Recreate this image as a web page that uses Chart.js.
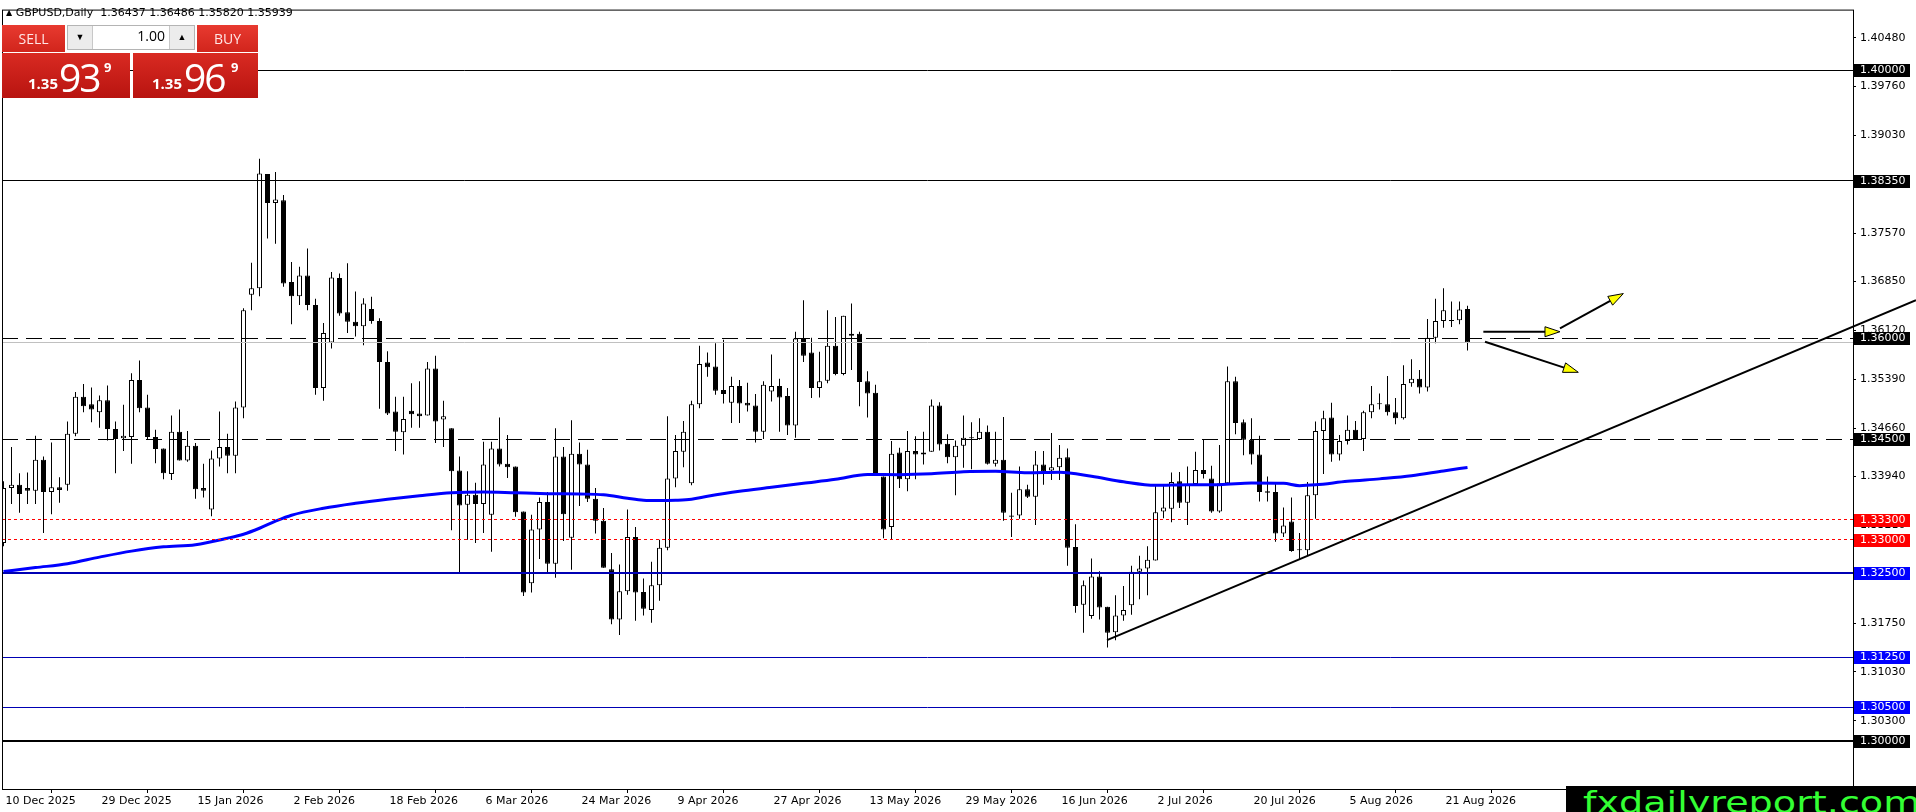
<!DOCTYPE html>
<html>
<head>
<meta charset="utf-8">
<script src="https://cdn.jsdelivr.net/npm/chart.js@4.4.1/dist/chart.umd.min.js"></script>
<style>
html,body{margin:0;padding:0;background:#fff;}
#wrap{position:relative;width:1916px;height:812px;overflow:hidden;background:#fff;}
#c{position:absolute;left:0;top:0;}
.abs{position:absolute;white-space:pre;}
#title{left:6px;top:6px;font:11px "DejaVu Sans";color:#000;}
.btn{position:absolute;top:25px;height:27px;background:linear-gradient(#e83a30,#d1251c);color:#ffe6e6;font:14px "Open Sans";text-align:center;line-height:27px;}
.pbox{position:absolute;top:53px;height:45px;background:linear-gradient(#d92a22,#b81410);color:#fff;overflow:hidden;}
.pbox span{position:absolute;line-height:1;font-family:"Open Sans";}
.sm{font-size:15px;font-weight:bold;}
.big{font-size:39px;letter-spacing:-2px;}
.sup{font-size:13px;font-weight:bold;}
#spin{position:absolute;left:67px;top:25px;width:128px;height:25px;border:1px solid #b4b4b4;background:#fff;box-sizing:border-box;}
.seg{position:absolute;top:0;width:24px;height:23px;background:#ececec;font-size:9px;text-align:center;line-height:23px;color:#000;}
#logo{position:absolute;left:1566px;top:786px;width:350px;height:26px;background:#000;overflow:hidden;}
#logo span{position:absolute;left:17px;top:-2px;line-height:1;font:31px "DejaVu Sans";color:#33ff33;white-space:pre;transform:scaleX(1.23);transform-origin:0 0;}
</style>
</head>
<body>
<div id="wrap">
<canvas id="c" width="1916" height="812"></canvas>
<div id="title" class="abs"></div>
<div class="btn" style="left:2px;width:63px;">SELL</div>
<div id="spin">
  <div class="seg" style="left:0;border-right:1px solid #c8c8c8;">▼</div>
  <div class="abs" style="right:29px;top:0;line-height:23px;font:14px 'Open Sans';color:#000;">1.00</div>
  <div class="seg" style="right:0;border-left:1px solid #c8c8c8;">▲</div>
</div>
<div class="btn" style="left:197px;width:61px;">BUY</div>
<div class="pbox" style="left:2px;width:128px;">
  <span class="sm" style="left:26px;top:23px;">1.35</span>
  <span class="big" style="left:57px;top:4px;">93</span>
  <span class="sup" style="left:102px;top:8px;">9</span>
</div>
<div class="pbox" style="left:133px;width:125px;">
  <span class="sm" style="left:19px;top:23px;">1.35</span>
  <span class="big" style="left:51px;top:4px;">96</span>
  <span class="sup" style="left:98px;top:8px;">9</span>
</div>
<div id="logo"><span>fxdailyreport.com</span></div>
</div>
<script>
// ---------- DATA ----------
const symbolName = 'GBPUSD,Daily';
const opens = [
1.3295,1.3377,1.3382,1.3377,1.3373,1.3419,1.3371,1.3378,1.3382,1.3458,
1.3513,1.3502,1.3490,1.3508,1.3465,1.3451,1.3453,1.3538,1.3497,1.3453,
1.3436,1.3398,1.3461,1.3418,1.3440,1.3377,1.3345,1.3421,1.3438,1.3425,
1.3497,1.3665,1.3675,1.3845,1.3802,1.3806,1.3684,1.3663,1.3694,1.3650,
1.3526,1.3594,1.3690,1.3639,1.3625,1.3618,1.3644,1.3626,1.3565,1.3491,
1.3460,1.3492,1.3488,1.3485,1.3555,1.3479,1.3466,1.3403,1.3352,1.3367,
1.3353,1.3337,1.3436,1.3413,1.3409,1.3342,1.3235,1.3315,1.3356,1.3264,
1.3424,1.3303,1.3428,1.3412,1.3361,1.3328,1.3256,1.3181,1.3223,1.3304,
1.3222,1.3195,1.3232,1.3288,1.3391,1.3431,1.3384,1.3502,1.3564,1.3558,
1.3523,1.3504,1.3529,1.3504,1.3500,1.3461,1.3521,1.3529,1.3514,1.3470,
1.3599,1.3579,1.3526,1.3537,1.3589,1.3547,1.3604,1.3607,1.3536,1.3519,
1.3394,1.3319,1.3430,1.3390,1.3432,1.3427,1.3431,1.3500,1.3443,1.3423,
1.3440,1.3452,1.3450,1.3461,1.3413,1.3419,1.3336,1.3336,1.3375,1.3364,
1.3412,1.3403,1.3408,1.3423,1.3289,1.3203,1.3186,1.3245,1.3200,1.3162,
1.3187,1.3202,1.3252,1.3257,1.3269,1.3342,1.3346,1.3387,1.3355,1.3383,
1.3404,1.3391,1.3342,1.3384,1.3536,1.3475,1.3449,1.3427,1.3372,1.3371,
1.3309,1.3327,1.3285,1.3284,1.3366,1.3462,1.3482,1.3427,1.3447,1.3464,
1.3450,1.3490,1.3503,1.3502,1.3490,1.3481,1.3533,1.3540,1.3527,1.3601,
1.3626,1.3627,1.3627,1.36437];
const highs = [
1.3387,1.3438,1.3399,1.3400,1.3455,1.3424,1.3445,1.3393,1.3476,1.3520,
1.3532,1.3527,1.3515,1.3530,1.3476,1.3501,1.3548,1.3567,1.3516,1.3464,
1.3436,1.3485,1.3494,1.3462,1.3444,1.3413,1.3433,1.3491,1.3458,1.3506,
1.3645,1.3713,1.3868,1.3845,1.3848,1.3814,1.3714,1.3707,1.3734,1.3659,
1.3623,1.3699,1.3697,1.3712,1.3670,1.3660,1.3662,1.3630,1.3581,1.3513,
1.3513,1.3533,1.3536,1.3565,1.3574,1.3507,1.3466,1.3424,1.3402,1.3385,
1.3446,1.3446,1.3482,1.3456,1.3409,1.3342,1.3337,1.3363,1.3371,1.3466,
1.3438,1.3478,1.3445,1.3434,1.3377,1.3347,1.3280,1.3263,1.3345,1.3319,
1.3242,1.3267,1.3300,1.3484,1.3456,1.3477,1.3507,1.3589,1.3579,1.3593,
1.3598,1.3543,1.3538,1.3534,1.3517,1.3536,1.3576,1.3540,1.3526,1.3610,
1.3657,1.3601,1.3580,1.3642,1.3632,1.3634,1.3652,1.3610,1.3551,1.3531,
1.3394,1.3447,1.3437,1.3462,1.3454,1.3461,1.3509,1.3505,1.3457,1.3448,
1.3485,1.3475,1.3481,1.3470,1.3461,1.3483,1.3370,1.3409,1.3382,1.3432,
1.3432,1.3459,1.3441,1.3436,1.3323,1.3239,1.3272,1.3253,1.3200,1.3217,
1.3231,1.3261,1.3276,1.3290,1.3382,1.3382,1.3400,1.3401,1.3409,1.3431,
1.3450,1.3410,1.3441,1.3558,1.3543,1.3479,1.3481,1.3455,1.3394,1.3386,
1.3348,1.3363,1.3310,1.3386,1.3476,1.3492,1.3504,1.3456,1.3485,1.3477,
1.3492,1.3529,1.3518,1.3544,1.3511,1.3560,1.3569,1.3553,1.3629,1.3659,
1.3675,1.3655,1.3655,1.36486];
const lows = [
1.3290,1.3353,1.3340,1.3353,1.3353,1.3310,1.3338,1.3355,1.3373,1.3454,
1.3490,1.3475,1.3467,1.3448,1.3399,1.3432,1.3413,1.3490,1.3450,1.3414,
1.3390,1.3389,1.3418,1.3416,1.3361,1.3363,1.3335,1.3409,1.3399,1.3399,
1.3481,1.3642,1.3663,1.3749,1.3741,1.3677,1.3621,1.3650,1.3642,1.3516,
1.3507,1.3585,1.3634,1.3608,1.3603,1.3590,1.3622,1.3495,1.3486,1.3432,
1.3427,1.3467,1.3467,1.3485,1.3444,1.3438,1.3314,1.3250,1.3300,1.3295,
1.3310,1.3282,1.3409,1.3392,1.3334,1.3216,1.3221,1.3271,1.3250,1.3243,
1.3298,1.3255,1.3350,1.3356,1.3309,1.3258,1.3174,1.3158,1.3218,1.3179,
1.3187,1.3176,1.3209,1.3284,1.3378,1.3408,1.3381,1.3496,1.3543,1.3516,
1.3503,1.3474,1.3474,1.3491,1.3445,1.3450,1.3506,1.3461,1.3456,1.3452,
1.3565,1.3511,1.3512,1.3533,1.3545,1.3545,1.3553,1.3499,1.3482,1.3398,
1.3302,1.3300,1.3377,1.3372,1.3390,1.3412,1.3431,1.3433,1.3414,1.3366,
1.3407,1.3405,1.3449,1.3412,1.3409,1.3328,1.3304,1.3331,1.3362,1.3322,
1.3382,1.3389,1.3389,1.3261,1.3191,1.3161,1.3182,1.3181,1.3139,1.3150,
1.3179,1.3188,1.3211,1.3217,1.3269,1.3332,1.3326,1.3347,1.3322,1.3380,
1.3391,1.3340,1.3340,1.3384,1.3457,1.3426,1.3412,1.3357,1.3357,1.3297,
1.3304,1.3282,1.3271,1.3277,1.3331,1.3398,1.3416,1.3418,1.3442,1.3450,
1.3432,1.3481,1.3494,1.3485,1.3472,1.3479,1.3528,1.3518,1.3521,1.3593,
1.3616,1.3617,1.3621,1.35820];
const closes = [
1.3377,1.3382,1.3368,1.3373,1.3419,1.3371,1.3378,1.3374,1.3458,1.3513,
1.3499,1.3494,1.3508,1.3465,1.3450,1.3455,1.3538,1.3496,1.3453,1.3435,
1.3399,1.3461,1.3418,1.3440,1.3375,1.3373,1.3421,1.3438,1.3425,1.3497,
1.3642,1.3675,1.3846,1.3802,1.3807,1.3682,1.3663,1.3694,1.3650,1.3526,
1.3608,1.3691,1.3637,1.3625,1.3618,1.3652,1.3626,1.3565,1.3488,1.3461,
1.3480,1.3487,1.3484,1.3555,1.3476,1.3484,1.3402,1.3351,1.3367,1.3353,
1.3412,1.3436,1.3412,1.3408,1.3341,1.3221,1.3315,1.3356,1.3264,1.3424,
1.3338,1.3428,1.3412,1.3361,1.3328,1.3258,1.3181,1.3223,1.3304,1.3221,
1.3197,1.3232,1.3288,1.3391,1.3432,1.3461,1.3502,1.3562,1.3557,1.3522,
1.3517,1.3529,1.3503,1.3500,1.3461,1.3531,1.3529,1.3512,1.3470,1.3600,
1.3574,1.3526,1.3536,1.3589,1.3547,1.3634,1.3607,1.3535,1.3518,1.3398,
1.3315,1.3428,1.3390,1.3432,1.3427,1.3430,1.3500,1.3442,1.3423,1.3440,
1.3452,1.3451,1.3461,1.3413,1.3419,1.3340,1.3334,1.3375,1.3364,1.3412,
1.3402,1.3408,1.3422,1.3288,1.3201,1.3232,1.3245,1.3199,1.3161,1.3187,
1.3195,1.3252,1.3257,1.3270,1.3341,1.3348,1.3386,1.3355,1.3383,1.3404,
1.3398,1.3342,1.3384,1.3536,1.3474,1.3449,1.3427,1.3371,1.3370,1.3309,
1.3321,1.3283,1.3284,1.3366,1.3462,1.3481,1.3427,1.3447,1.3464,1.3450,
1.3490,1.3502,1.3502,1.3490,1.3481,1.3532,1.3540,1.3527,1.3601,1.3626,
1.3642,1.3626,1.3643,1.35939];

// moving average (read at sample bars)
const maIdx = [0,4,8,12,16,20,24,28,30,32,34,36,40,44,48,52,56,60,64,68,72,75,78,80,82,84,86,88,92,96,100,104,108,112,116,120,124,128,132,136,140,144,148,152,156,160,162,164,168,172,176,180,183];
const maVal = [1.32524,1.32583,1.32640,1.32739,1.32829,1.32893,1.32925,1.33022,1.33081,1.33170,1.33275,1.33364,1.33468,1.33542,1.33602,1.33654,1.33698,1.33710,1.33698,1.33686,1.33680,1.33669,1.33616,1.33587,1.33582,1.33587,1.33602,1.33646,1.33721,1.33780,1.33840,1.33899,1.33973,1.33969,1.33981,1.34011,1.34018,1.33996,1.34003,1.33944,1.33862,1.33810,1.33820,1.33820,1.33844,1.33840,1.33805,1.33817,1.33869,1.33906,1.33951,1.34025,1.34077];

// axis labels
const dateLabels = ['10 Dec 2025','29 Dec 2025','15 Jan 2026','2 Feb 2026','18 Feb 2026','6 Mar 2026','24 Mar 2026','9 Apr 2026','27 Apr 2026','13 May 2026','29 May 2026','16 Jun 2026','2 Jul 2026','20 Jul 2026','5 Aug 2026','21 Aug 2026'];
const dateTickIdx = [0,12,24,36,48,60,72,84,96,108,120,132,144,156,168,180];
const priceTicks = [1.40480,1.39760,1.39030,1.38300,1.37570,1.36850,1.36120,1.35390,1.34660,1.33940,1.33210,1.32480,1.31750,1.31030,1.30300];

// horizontal levels
const levelPrices = [1.40000,1.38350,1.36000,1.34500,1.33300,1.33000,1.32500,1.31250,1.30500,1.30000];
const bidPrice = 1.35939;

// trend line anchors (bar index, price)
const trendIdx = [137.94, 185.19];
const trendPrice = [1.31501, 1.33869];

// arrows (bar index, price)
const arrowFromIdx = [184.98, 194.56, 185.19];
const arrowFromPrice = [1.36100, 1.36149, 1.35951];
const arrowToIdx = [194.56, 202.48, 196.85];
const arrowToPrice = [1.36100, 1.36669, 1.35495];

// ---------- STYLES ----------
const levelStyle = [
  {c:'#000000', w:1, d:[], box:'#000000'},
  {c:'#000000', w:1, d:[], box:'#000000'},
  {c:'#000000', w:1, d:[16,8], box:'#000000'},
  {c:'#000000', w:1, d:[16,8], box:'#000000'},
  {c:'#ff0000', w:1, d:[3,3], box:'#ff0000'},
  {c:'#ff0000', w:1, d:[3,3], box:'#ff0000'},
  {c:'#0000b4', w:2, d:[], box:'#0000ff'},
  {c:'#0000b4', w:1, d:[], box:'#0000ff'},
  {c:'#0000b4', w:1, d:[], box:'#0000ff'},
  {c:'#000000', w:2, d:[], box:'#000000'}
];
const FONT = '11px "DejaVu Sans"';

// ---------- BUILD ----------
const N = opens.length;
const idx = opens.map((_, i) => i);
const bodies = idx.map(i => ({x: i, y: [opens[i], closes[i]]}));
const wicks = idx.map(i => ({x: i, y: [lows[i], highs[i]]}));
const bodyFill = idx.map(i => closes[i] > opens[i] ? '#ffffff' : '#000000');
const maPoints = maIdx.map((v, k) => ({x: v, y: maVal[k]}));

const f5 = v => v.toFixed(5);
document.getElementById('title').innerHTML =
  '<span style="font-size:8px;position:relative;top:-1px;">▲</span> ' + symbolName + '  ' +
  [opens[N-1], highs[N-1], lows[N-1], closes[N-1]].map(f5).join(' ');

function hline(ctx, x1, x2, y, color, w, dash) {
  ctx.save();
  ctx.strokeStyle = color; ctx.lineWidth = w; ctx.setLineDash(dash);
  ctx.beginPath(); ctx.moveTo(x1, y); ctx.lineTo(x2, y); ctx.stroke();
  ctx.restore();
}
function snap(y, w) { return w % 2 ? Math.round(y - 0.5) + 0.5 : Math.round(y); }

const overlay = {
  id: 'overlay',
  afterDatasetsDraw(chart) {
    const {ctx, chartArea: a, scales: {x, y}} = chart;
    ctx.save();
    ctx.beginPath(); ctx.rect(a.left, a.top, a.right - a.left, a.bottom - a.top); ctx.clip();
    hline(ctx, a.left, a.right, snap(y.getPixelForValue(bidPrice), 1), '#c0c0c0', 1, []);
    levelPrices.forEach((p, k) => {
      const s = levelStyle[k];
      hline(ctx, a.left, a.right, snap(y.getPixelForValue(p), s.w), s.c, s.w, s.d);
    });
    ctx.restore();
  },
  afterDraw(chart) {
    const {ctx, chartArea: a, scales: {x, y}} = chart;
    ctx.save();
    ctx.strokeStyle = '#000'; ctx.lineWidth = 1;
    ctx.strokeRect(a.left + 0.5, a.top - 0.5, a.right - a.left, a.bottom - a.top + 1);
    ctx.restore();
    const tx = trendIdx.map(v => x.getPixelForValue(v));
    const ty = trendPrice.map(v => y.getPixelForValue(v));
    const slope = (ty[1] - ty[0]) / (tx[1] - tx[0]);
    const xe = chart.width;
    ctx.save();
    ctx.strokeStyle = '#000'; ctx.lineWidth = 2;
    ctx.beginPath(); ctx.moveTo(tx[0], ty[0]); ctx.lineTo(xe, ty[0] + slope * (xe - tx[0])); ctx.stroke();
    ctx.restore();
    arrowFromIdx.forEach((_, k) => {
      const x1 = x.getPixelForValue(arrowFromIdx[k]), y1 = y.getPixelForValue(arrowFromPrice[k]);
      const x2 = x.getPixelForValue(arrowToIdx[k]), y2 = y.getPixelForValue(arrowToPrice[k]);
      const len = Math.hypot(x2 - x1, y2 - y1);
      const ux = (x2 - x1) / len, uy = (y2 - y1) / len;
      const hl = 15, hw = 5;
      const bx = x2 - ux * hl, by = y2 - uy * hl;
      ctx.save();
      ctx.strokeStyle = '#000'; ctx.lineWidth = 2;
      ctx.beginPath(); ctx.moveTo(x1, y1); ctx.lineTo(bx, by); ctx.stroke();
      ctx.beginPath();
      ctx.moveTo(x2, y2);
      ctx.lineTo(bx - uy * hw, by + ux * hw);
      ctx.lineTo(bx + uy * hw, by - ux * hw);
      ctx.closePath();
      ctx.fillStyle = '#ffff00'; ctx.fill();
      ctx.lineWidth = 1; ctx.stroke();
      ctx.restore();
    });
    ctx.save();
    ctx.font = FONT; ctx.textBaseline = 'middle'; ctx.textAlign = 'left';
    levelPrices.forEach((p, k) => {
      const yy = Math.round(y.getPixelForValue(p));
      ctx.fillStyle = levelStyle[k].box;
      ctx.fillRect(a.right + 1, yy - 6, 56, 13);
      ctx.fillStyle = '#ffffff';
      ctx.fillText(f5(p), a.right + 7, yy + 0.5);
    });
    ctx.restore();
  }
};

Chart.defaults.font.family = 'DejaVu Sans';
Chart.defaults.font.size = 11;
Chart.defaults.color = '#000';

new Chart(document.getElementById('c'), {
  type: 'bar',
  data: {
    datasets: [
      { type: 'line', data: maPoints, borderColor: '#0000ff', borderWidth: 3, pointRadius: 0,
        tension: 0.4, cubicInterpolationMode: 'monotone', fill: false, order: 0 },
      { data: bodies, backgroundColor: bodyFill, borderColor: '#000', borderWidth: 1,
        borderSkipped: false, barThickness: 5, grouped: false, minBarLength: 1, inflateAmount: 0, order: 1 },
      { data: wicks, backgroundColor: '#000', borderWidth: 0, barThickness: 1,
        grouped: false, inflateAmount: 0, order: 2 }
    ]
  },
  options: {
    responsive: false, animation: false, devicePixelRatio: 1,
    layout: { padding: { left: 2, top: 5, right: 0, bottom: 0 } },
    plugins: { legend: { display: false }, tooltip: { enabled: false } },
    scales: {
      x: {
        type: 'linear', min: -0.1875, max: 231.1875, offset: false,
        grid: { display: true, drawOnChartArea: false, drawTicks: true, tickLength: 4, color: '#000' },
        border: { display: false },
        afterBuildTicks: s => { s.ticks = dateTickIdx.map(v => ({value: v})); },
        afterFit: s => { s.height = 23; },
        ticks: { autoSkip: false, maxRotation: 0, minRotation: 0, align: 'start', labelOffset: 2, padding: 2,
          color: '#000', font: { family: 'DejaVu Sans', size: 11 },
          callback: v => { const k = dateTickIdx.indexOf(v); return k >= 0 ? dateLabels[k] : ''; } }
      },
      y: {
        type: 'linear', position: 'right', min: 1.29282, max: 1.40888,
        grid: { display: true, drawOnChartArea: false, drawTicks: true, tickLength: 3, color: '#000' },
        border: { display: false },
        afterBuildTicks: s => { s.ticks = priceTicks.map(v => ({value: v})); },
        afterFit: s => { s.width = 63; },
        ticks: { autoSkip: false, padding: 4, color: '#000', font: { family: 'DejaVu Sans', size: 11 },
          callback: v => f5(v) }
      }
    }
  },
  plugins: [overlay]
});
</script>
</body>
</html>
